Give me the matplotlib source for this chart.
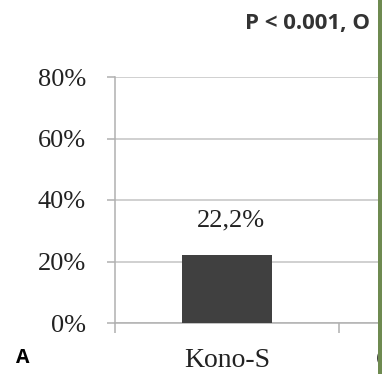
import numpy as np
import matplotlib
matplotlib.use("Agg")
import matplotlib.pyplot as plt
from matplotlib.patches import Rectangle

# data (second bar lies outside the crop)
categories = ["Kono-S", "Conventional"]
values = [22.2, np.nan]
yticks = [0, 20, 40, 60, 80]
title = "P < 0.001, O"
panel = "A"

fig = plt.figure(figsize=(3.82, 3.74), dpi=100)
fig.patch.set_facecolor("white")

# axes run past the right edge, like the cropped original
ax = fig.add_axes([115 / 382, 1 - 323 / 374, 448 / 382, 246 / 374])

x = np.arange(len(categories))
shown = [i for i, v in enumerate(values) if not np.isnan(v)]
ax.bar(x[shown], [values[i] for i in shown], width=0.4, color="#404040", zorder=3)

for i in shown:
    ax.annotate(f"{values[i]:.1f}%".replace(".", ","), (x[i], values[i]),
                xytext=(2.5, 17), textcoords="offset points", ha="center", va="bottom",
                fontsize=19, family="Liberation Serif", color="#222222")

ax.set_ylim(0, 80)
ax.set_xlim(-0.5, len(categories) - 0.5)
ax.set_yticks(yticks)
ax.set_yticklabels([f"{t}%" for t in yticks], family="Liberation Serif", fontsize=19, color="#222222")
ax.yaxis.grid(True, color="#c4c4c4", linewidth=1.1, zorder=0)

# category labels centred, tick marks on the boundaries
ax.set_xticks(x)
ax.set_xticklabels(categories, family="Liberation Serif", fontsize=20, color="#222222")
ax.tick_params(axis="x", length=0, pad=18)
ax.set_xticks(np.arange(len(categories) + 1) - 0.5, minor=True)
ax.tick_params(axis="x", which="minor", length=7, width=1.1, color="#b0b0b0", direction="out")
ax.tick_params(axis="y", length=6, width=1.1, color="#b0b0b0", pad=15)

for s in ["top", "right"]:
    ax.spines[s].set_visible(False)
for s in ["left", "bottom"]:
    ax.spines[s].set_color("#b0b0b0")
    ax.spines[s].set_linewidth(1.1)

fig.text(245 / 382, 1 - 23 / 374, title, ha="left", va="center",
         fontsize=16, fontweight="bold", family="Open Sans", color="#333333")
fig.text(16 / 382, 1 - 358 / 374, panel, ha="left", va="center",
         fontsize=14, fontweight="bold", family="Open Sans", color="black")

# strip of the neighbouring photo at the right edge
fig.add_artist(Rectangle((378 / 382, 0), 4 / 382, 1, transform=fig.transFigure,
                         facecolor="#6e8a50", edgecolor="none", zorder=10))

fig.savefig("out.png", dpi=100)
